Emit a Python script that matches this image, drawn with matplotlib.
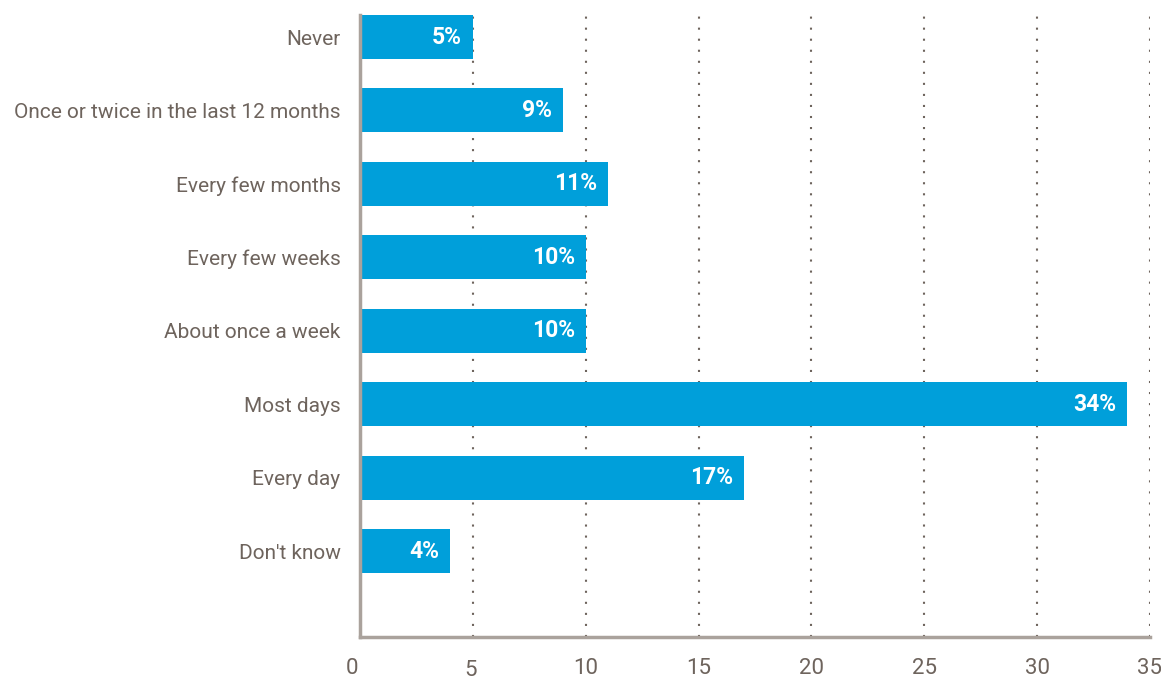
import matplotlib
matplotlib.use("Agg")
import matplotlib.pyplot as plt
import matplotlib.transforms as mtransforms

categories = [
    "Never",
    "Once or twice in the last 12 months",
    "Every few months",
    "Every few weeks",
    "About once a week",
    "Most days",
    "Every day",
    "Don't know",
]
values = [5, 9, 11, 10, 10, 34, 17, 4]
x_ticks = [0, 5, 10, 15, 20, 25, 30, 35]

BAR = "#009fda"
TEXT = "#6e645d"
SPINE = "#aaa29c"
GRID = "#6e645d"

plt.rcParams["font.family"] = ["Roboto", "DejaVu Sans"]

fig = plt.figure(figsize=(11.61, 6.81), dpi=100)
W, H = 1161, 681
ax = fig.add_axes([360 / W, 1 - 637 / H, (1150 - 360) / W, (637 - 15) / H])

ypos = list(range(len(categories)))
ax.barh(ypos, values, height=0.6, color=BAR, zorder=2)

for y, v in zip(ypos, values):
    ax.annotate(f"{v}%", xy=(v, y), xytext=(-11, 0), textcoords="offset pixels",
                ha="right", va="center", color="white", fontsize=16.5,
                fontweight="bold", zorder=3)

ax.set_xlim(0, 35)
ax.set_ylim(8.17, -0.3)
ax.set_yticks(ypos)
ax.set_yticklabels(categories)
ax.set_xticks(x_ticks)
ax.set_xticklabels([str(t) for t in x_ticks])

ax.tick_params(axis="y", length=0, pad=14, labelsize=15, labelcolor=TEXT)
ax.tick_params(axis="x", length=0, pad=15, labelsize=16, labelcolor=TEXT)

for x in x_ticks[1:]:
    ax.axvline(x, color=GRID, linewidth=1.5, linestyle=(0, (1, 4.3)), zorder=1)

for side in ("top", "right"):
    ax.spines[side].set_visible(False)
for side in ("left", "bottom"):
    ax.spines[side].set_color(SPINE)
    ax.spines[side].set_linewidth(2.5)
    ax.spines[side].set_zorder(4)

# small nudges on the first two x labels
xl = ax.get_xticklabels()
xl[0].set_transform(xl[0].get_transform() + mtransforms.ScaledTranslation(-8 / 100, 0, fig.dpi_scale_trans))
xl[1].set_transform(xl[1].get_transform() + mtransforms.ScaledTranslation(-2.5 / 100, -2 / 100, fig.dpi_scale_trans))

fig.savefig("out.png", dpi=100)
